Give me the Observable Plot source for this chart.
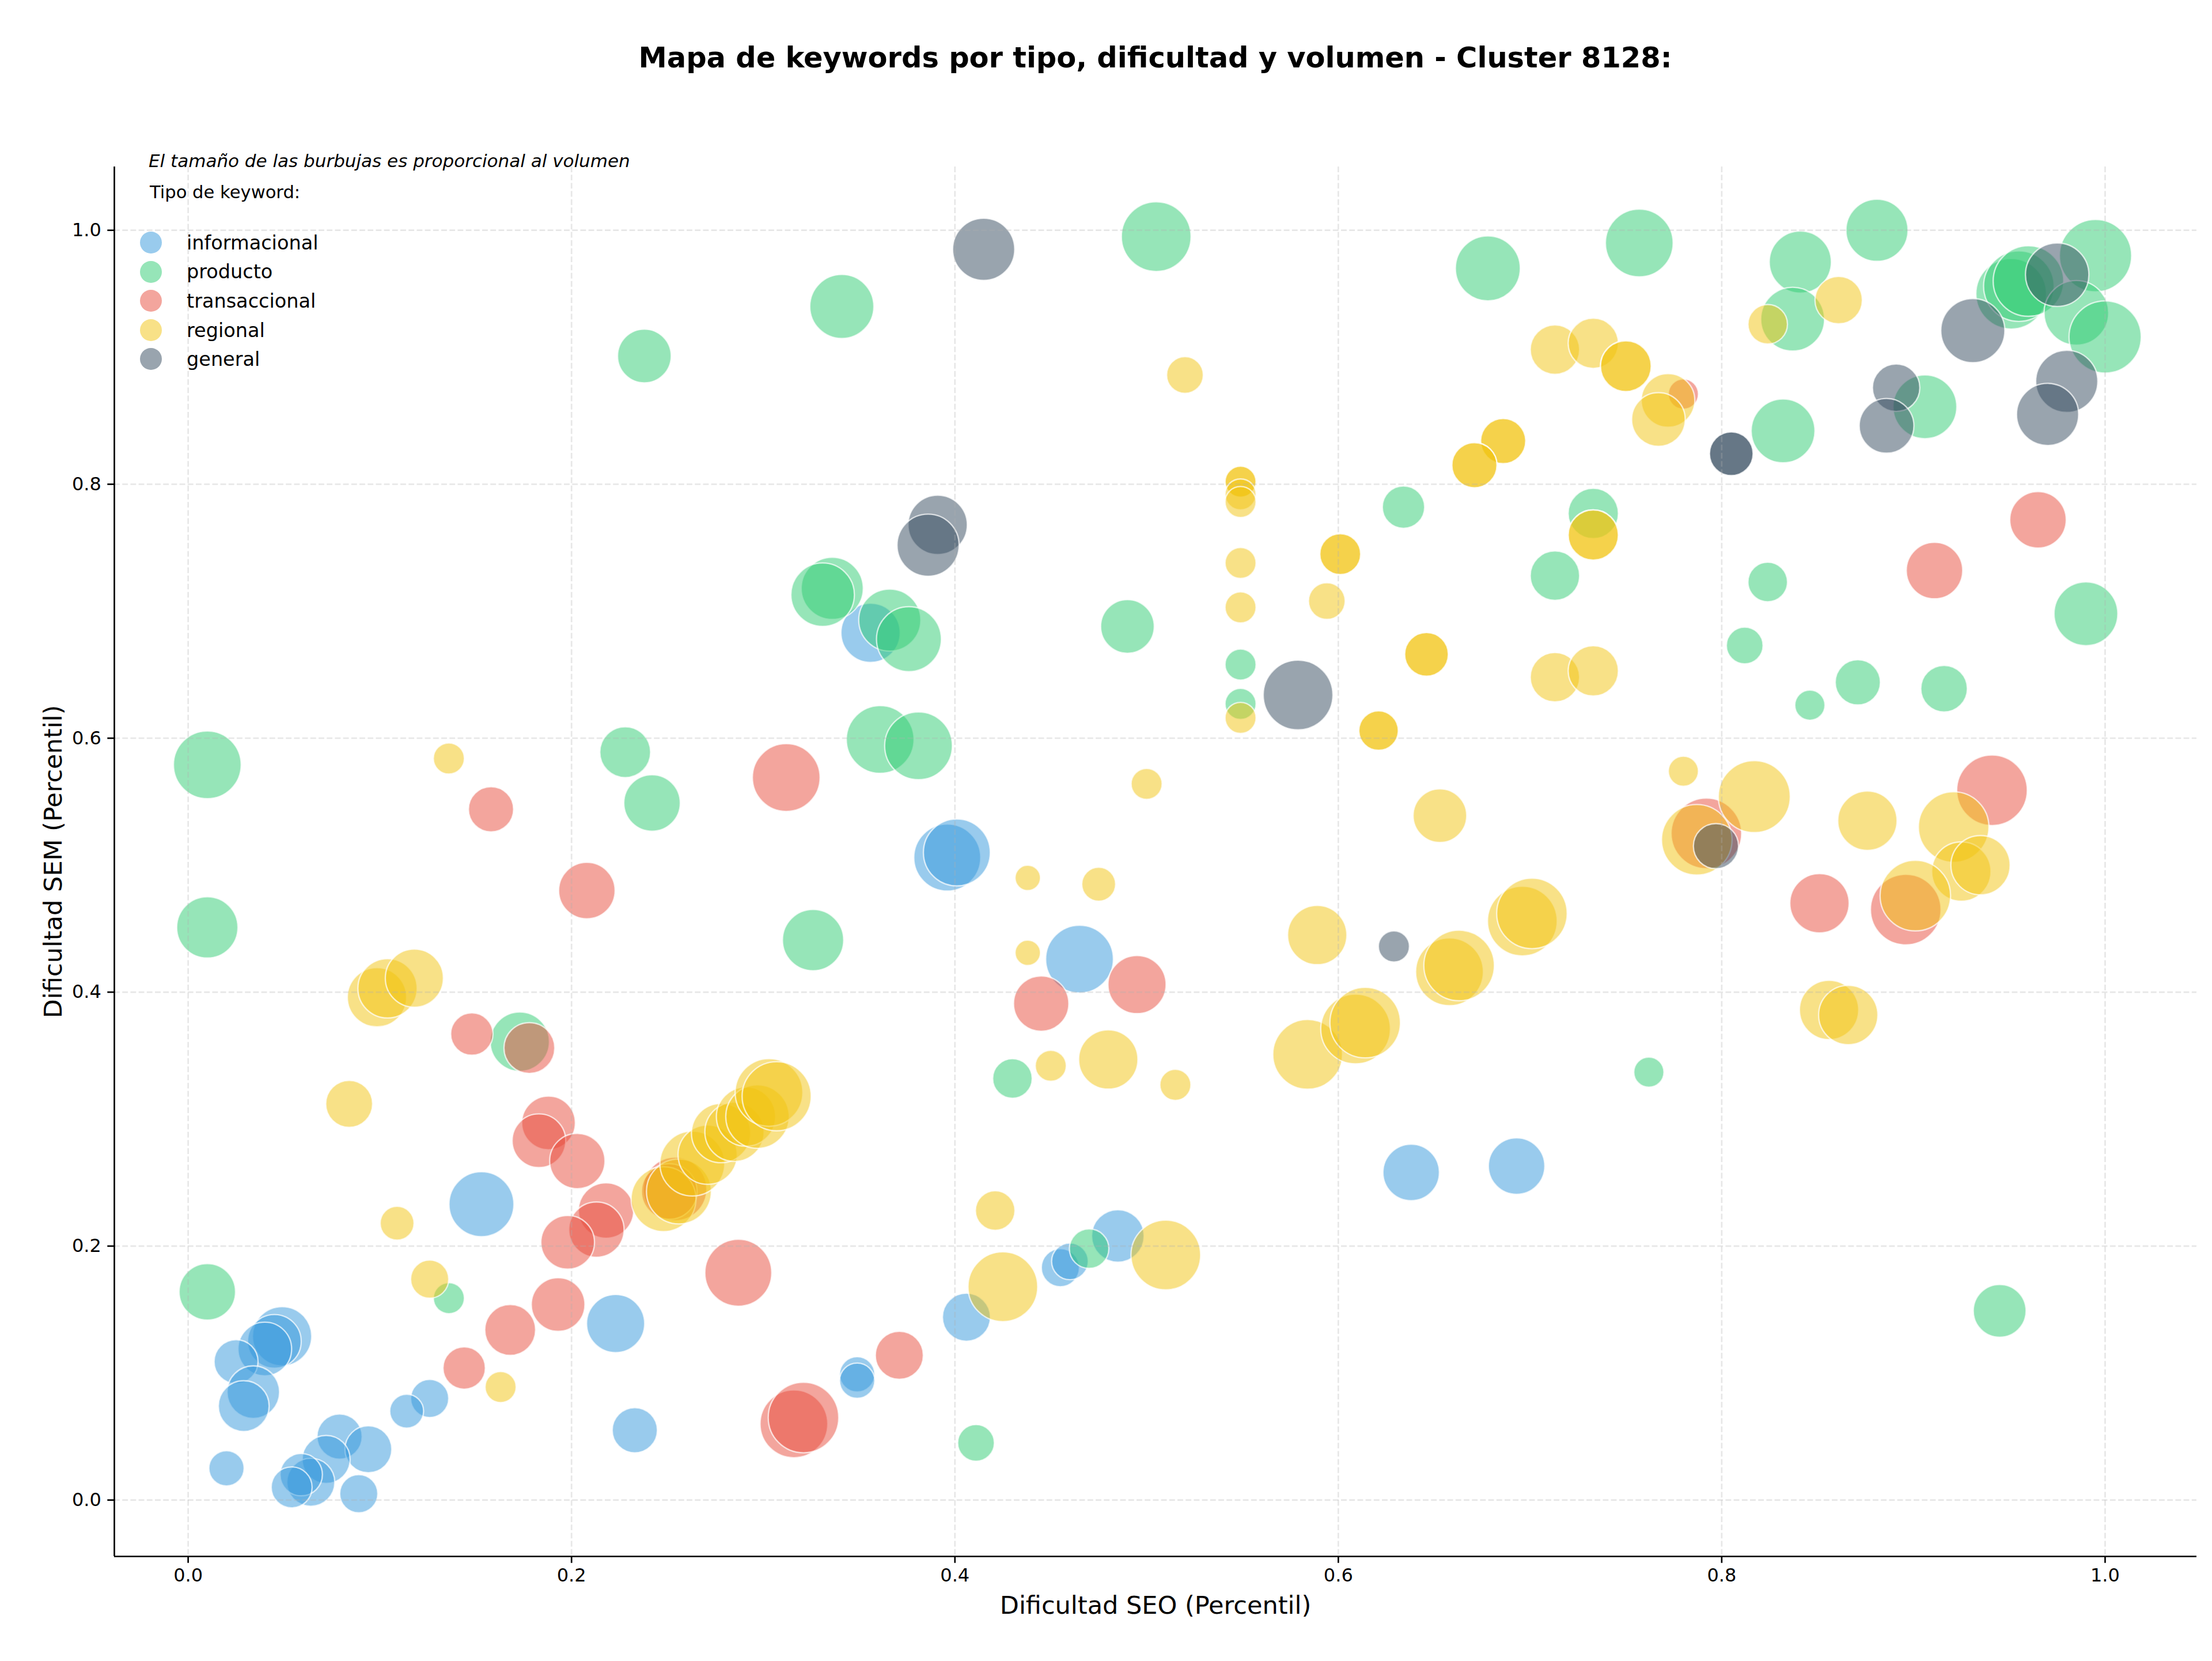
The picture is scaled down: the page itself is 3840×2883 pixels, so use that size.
<!DOCTYPE html>
<html>
<head>
<meta charset="utf-8">
<script src="https://cdn.jsdelivr.net/npm/d3@7"></script>
<script src="https://cdn.jsdelivr.net/npm/@observablehq/plot@0.6"></script>
<style>
html,body{margin:0;padding:0;background:#fff;}
#wrap{position:relative;width:3840px;height:2883px;font-family:"DejaVu Sans",sans-serif;color:#000;overflow:hidden;}
#title{height:200px;line-height:200px;box-sizing:border-box;padding-left:198px;padding-right:27px;text-align:center;font-weight:bold;font-size:49.5px;white-space:nowrap;}
#chart svg{display:block;}
.ov{position:absolute;white-space:nowrap;line-height:1;}
.mk{position:absolute;border-radius:50%;}
</style>
</head>
<body>
<div id="wrap">
  <div id="title"></div>
  <div id="chart"></div>
  <div id="legend"></div>
</div>
<script>
// ---------- DATA ----------
const titulo = "Mapa de keywords por tipo, dificultad y volumen - Cluster 8128:";
const subtitulo = "El tamaño de las burbujas es proporcional al volumen";
const tituloLeyenda = "Tipo de keyword:";
const etiquetaX = "Dificultad SEO (Percentil)";
const etiquetaY = "Dificultad SEM (Percentil)";
const tipos = ["informacional", "producto", "transaccional", "regional", "general"];
const ticksX = [0, 0.2, 0.4, 0.6, 0.8, 1.0];
const ticksY = [0, 0.2, 0.4, 0.6, 0.8, 1.0];

// [dificultad SEO, dificultad SEM, volumen]
const informacional = [
  [0.153,0.233,529],[0.223,0.139,424],[0.126,0.080,182],[0.114,0.070,144],[0.233,0.055,256],
  [0.049,0.129,441],[0.045,0.125,361],[0.040,0.119,361],[0.025,0.109,243],[0.034,0.085,346],
  [0.029,0.074,324],[0.020,0.025,156],[0.079,0.050,256],[0.094,0.040,276],[0.072,0.032,289],
  [0.064,0.014,289],[0.059,0.020,225],[0.054,0.010,210],[0.089,0.005,182],[0.396,0.506,562],
  [0.401,0.510,562],[0.465,0.426,576],[0.638,0.258,400],[0.693,0.263,400],[0.485,0.208,346],
  [0.455,0.183,182],[0.460,0.188,169],[0.406,0.144,289],[0.349,0.099,156],[0.349,0.094,156],
  [0.356,0.683,441]
];
const producto = [
  [0.341,0.940,515],[0.238,0.901,361],[0.505,0.995,610],[0.678,0.970,529],[0.757,0.990,576],
  [0.841,0.975,484],[0.881,1.000,484],[0.837,0.930,511],[0.832,0.842,511],[0.906,0.861,511],
  [0.951,0.950,625],[0.955,0.956,625],[0.960,0.960,625],[0.995,0.980,655],[0.985,0.935,524],
  [1.000,0.916,655],[0.336,0.718,484],[0.331,0.713,506],[0.366,0.693,484],[0.376,0.678,529],
  [0.490,0.688,361],[0.634,0.782,225],[0.549,0.658,121],[0.549,0.627,121],[0.361,0.599,576],
  [0.381,0.594,576],[0.010,0.579,576],[0.228,0.589,324],[0.242,0.549,400],[0.733,0.777,317],
  [0.713,0.728,306],[0.824,0.723,196],[0.990,0.698,511],[0.812,0.673,169],[0.871,0.644,256],
  [0.916,0.639,272],[0.846,0.626,114],[0.010,0.451,471],[0.326,0.441,471],[0.173,0.361,441],
  [0.010,0.164,400],[0.136,0.159,121],[0.430,0.332,196],[0.470,0.198,196],[0.411,0.045,169],
  [0.762,0.337,114],[0.945,0.149,350]
];
const transaccional = [
  [0.208,0.480,400],[0.148,0.367,225],[0.178,0.356,324],[0.188,0.297,361],[0.183,0.283,361],
  [0.203,0.267,384],[0.218,0.228,384],[0.213,0.213,384],[0.198,0.203,361],[0.287,0.179,562],
  [0.193,0.154,361],[0.168,0.134,324],[0.144,0.104,225],[0.316,0.060,576],[0.321,0.065,625],
  [0.254,0.245,506],[0.251,0.243,388],[0.445,0.391,384],[0.495,0.406,424],[0.371,0.114,289],
  [0.158,0.544,256],[0.312,0.569,576],[0.780,0.871,114],[0.965,0.772,400],[0.911,0.732,400],
  [0.792,0.525,625],[0.941,0.559,625],[0.851,0.470,441],[0.896,0.465,625]
];
const regional = [
  [0.0985,0.396,441],[0.104,0.403,441],[0.118,0.411,424],[0.084,0.312,276],[0.109,0.218,144],
  [0.126,0.174,182],[0.163,0.089,121],[0.136,0.584,121],[0.248,0.237,529],[0.256,0.243,529],
  [0.263,0.265,529],[0.271,0.272,441],[0.278,0.289,441],[0.285,0.290,441],[0.291,0.302,441],
  [0.297,0.302,506],[0.303,0.321,576],[0.307,0.318,600],[0.438,0.490,81],[0.475,0.485,144],
  [0.438,0.431,81],[0.480,0.347,441],[0.450,0.342,121],[0.515,0.327,121],[0.589,0.445,441],
  [0.658,0.416,576],[0.663,0.421,625],[0.696,0.456,610],[0.701,0.462,625],[0.584,0.351,610],
  [0.609,0.371,610],[0.614,0.376,625],[0.421,0.228,196],[0.510,0.193,610],[0.425,0.168,610],
  [0.520,0.886,169],[0.686,0.834,256],[0.686,0.834,256],[0.671,0.815,256],[0.671,0.815,256],
  [0.549,0.802,121],[0.549,0.802,121],[0.549,0.792,121],[0.549,0.786,121],[0.549,0.738,121],
  [0.601,0.745,210],[0.601,0.745,210],[0.594,0.708,169],[0.549,0.703,121],[0.646,0.666,240],
  [0.646,0.666,240],[0.549,0.616,121],[0.621,0.606,196],[0.621,0.606,196],[0.500,0.564,121],
  [0.653,0.539,361],[0.713,0.906,306],[0.733,0.911,317],[0.750,0.893,324],[0.750,0.893,324],
  [0.772,0.866,361],[0.767,0.851,361],[0.861,0.945,282],[0.824,0.926,196],[0.733,0.760,317],
  [0.733,0.760,317],[0.713,0.648,306],[0.733,0.653,317],[0.780,0.574,114],[0.817,0.554,650],
  [0.787,0.520,625],[0.876,0.535,441],[0.921,0.530,625],[0.925,0.495,441],[0.935,0.500,441],
  [0.901,0.476,625],[0.856,0.386,441],[0.866,0.382,441]
];
const general = [
  [0.415,0.985,484],[0.391,0.768,441],[0.386,0.752,484],[0.579,0.634,610],[0.629,0.436,121],
  [0.805,0.824,240],[0.805,0.824,240],[0.797,0.515,256],[0.891,0.876,282],[0.886,0.846,376],
  [0.931,0.921,515],[0.975,0.965,506],[0.980,0.881,484],[0.970,0.855,484]
];

// ---------- STYLE ----------
const colores = ["#3498db", "#2ecc71", "#e74c3c", "#f1c40f", "#34495e"];
const series = [informacional, producto, transaccional, regional, general];
const xDomain = [-0.0385, 1.0478];
const yDomain = [-0.0444, 1.05];

const data = [];
tipos.forEach((t, i) => series[i].forEach(([x, y, v]) => data.push({tipo: t, x, y, vol: v})));

document.getElementById("title").textContent = titulo;

const chart = Plot.plot({
  width: 3840,
  height: 2683,
  marginTop: 89,
  marginBottom: 182,
  marginLeft: 198,
  marginRight: 27,
  style: {fontFamily: "DejaVu Sans", fontSize: "32px", background: "white", color: "black"},
  x: {domain: xDomain, label: null},
  y: {domain: yDomain, label: null},
  r: {type: "sqrt", domain: [0, 625], range: [0, 61.2]},
  color: {type: "ordinal", domain: tipos, range: colores},
  marks: [
    Plot.dot(data, {x: "x", y: "y", r: "vol", fill: "tipo", fillOpacity: 0.5,
      stroke: "white", strokeOpacity: 0.7, strokeWidth: 2.4, sort: null}),
    Plot.gridX({ticks: ticksX, stroke: "#b0b0b0", strokeOpacity: 0.3, strokeWidth: 2.67, strokeDasharray: "9.9,4.3"}),
    Plot.gridY({ticks: ticksY, stroke: "#b0b0b0", strokeOpacity: 0.3, strokeWidth: 2.67, strokeDasharray: "9.9,4.3"}),
    Plot.ruleX([xDomain[0]], {stroke: "black", strokeWidth: 2.67}),
    Plot.ruleY([yDomain[0]], {stroke: "black", strokeWidth: 2.67}),
    Plot.axisX({ticks: ticksX, tickFormat: d3.format(".1f"), tickSize: 11.7, tickPadding: 9,
      fontSize: 32, strokeWidth: 2.67, label: null}),
    Plot.axisY({ticks: ticksY, tickFormat: d3.format(".1f"), tickSize: 11.7, tickPadding: 11,
      fontSize: 32, strokeWidth: 2.67, label: null}),
    Plot.text([etiquetaX], {text: d => d, frameAnchor: "bottom", textAnchor: "middle", lineAnchor: "middle",
      dy: 86, fontSize: 43}),
    Plot.text([etiquetaY], {text: d => d, frameAnchor: "left", textAnchor: "middle", lineAnchor: "middle",
      dx: -105, rotate: -90, fontSize: 43})
  ]
});
document.getElementById("chart").appendChild(chart);

// ---------- LEGEND (overlay, top-left of axes) ----------
const leg = document.getElementById("legend");
function addText(txt, left, cy, size, extra) {
  const d = document.createElement("div");
  d.className = "ov";
  d.textContent = txt;
  d.style.left = left + "px";
  d.style.top = (cy - 0.486 * size) + "px";
  d.style.fontSize = size + "px";
  if (extra) Object.assign(d.style, extra);
  leg.appendChild(d);
}
addText(subtitulo, 258, 279, 31, {fontStyle: "italic"});
addText(tituloLeyenda, 260, 334, 30.6);
tipos.forEach((t, i) => {
  const cy = 421 + i * 50.6;
  const m = document.createElement("div");
  m.className = "mk";
  const c = d3.color(colores[i]); c.opacity = 0.5;
  m.style.background = c.formatRgb();
  m.style.left = (262 - 19) + "px";
  m.style.top = (cy - 19) + "px";
  m.style.width = "38px";
  m.style.height = "38px";
  leg.appendChild(m);
  addText(t, 324, cy, 33.5);
});
</script>
</body>
</html>
